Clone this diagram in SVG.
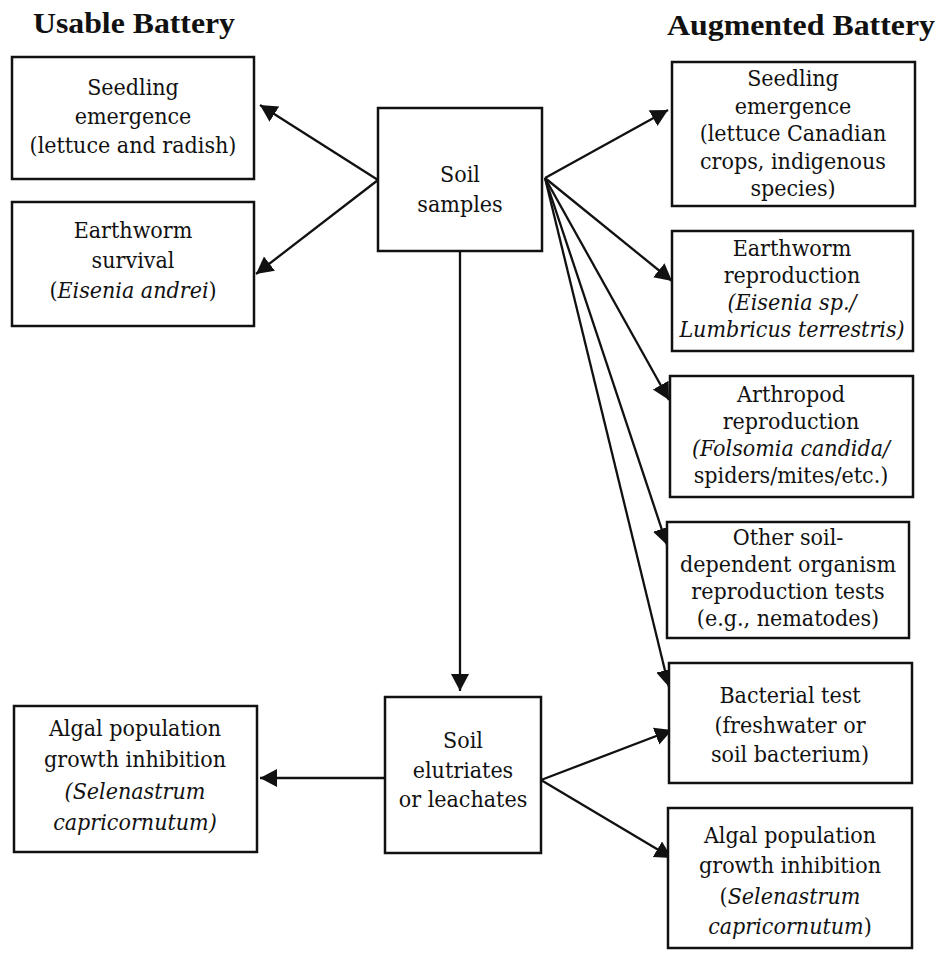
<svg xmlns="http://www.w3.org/2000/svg" width="939" height="954" viewBox="0 0 939 954">
  <style>
    .box { fill: #fff; stroke: #111; stroke-width: 2.5; }
    text { fill: #111; }
    .t { font-family: "DejaVu Serif Condensed", "DejaVu Serif", serif; font-stretch: condensed; font-size: 23px; text-anchor: middle; }
    .i { font-style: italic; }
    .title { font-family: "Liberation Serif", "DejaVu Serif", serif; font-size: 29px; font-weight: bold; }
    .edge { fill: none; stroke: #111; stroke-width: 2.3; marker-end: url(#head); }
  </style>
  <defs>
    <marker id="head" markerUnits="userSpaceOnUse" markerWidth="20" markerHeight="20" refX="17" refY="9" orient="auto">
      <path d="M0,0 L17,9 L0,18 Z" fill="#111"/>
    </marker>
  </defs>
  <rect width="939" height="954" fill="#fff"/>

  <!-- column headings -->
  <text class="title" x="33" y="33" textLength="202" lengthAdjust="spacingAndGlyphs">Usable Battery</text>
  <text class="title" x="667" y="35" textLength="268" lengthAdjust="spacingAndGlyphs">Augmented Battery</text>

  <!-- connectors -->
  <g id="connectors">
    <line class="edge" x1="378" y1="180" x2="260" y2="105"/>
    <line class="edge" x1="378" y1="180" x2="256" y2="274"/>
    <line class="edge" x1="545" y1="178" x2="668" y2="110"/>
    <line class="edge" x1="545" y1="178" x2="672" y2="281"/>
    <line class="edge" x1="545" y1="178" x2="669" y2="400"/>
    <line class="edge" x1="545" y1="178" x2="667" y2="545"/>
    <line class="edge" x1="545" y1="178" x2="669" y2="687"/>
    <line class="edge" x1="460" y1="251" x2="460" y2="691"/>
    <line class="edge" x1="385" y1="778" x2="260" y2="778"/>
    <line class="edge" x1="541" y1="780" x2="672" y2="730"/>
    <line class="edge" x1="541" y1="780" x2="672" y2="858"/>
  </g>

  <!-- usable battery -->
  <g id="usable-seedling">
    <rect class="box" x="12" y="57" width="242" height="122"/>
    <text class="t" x="133" y="95">Seedling</text>
    <text class="t" x="133" y="124">emergence</text>
    <text class="t" x="133" y="153">(lettuce and radish)</text>
  </g>
  <g id="usable-earthworm">
    <rect class="box" x="12" y="202" width="242" height="124"/>
    <text class="t" x="133" y="238">Earthworm</text>
    <text class="t" x="133" y="268">survival</text>
    <text class="t" x="133" y="298">(<tspan class="i">Eisenia andrei</tspan>)</text>
  </g>
  <g id="usable-algal">
    <rect class="box" x="14" y="706" width="243" height="146"/>
    <text class="t" x="135" y="736">Algal population</text>
    <text class="t" x="135" y="767">growth inhibition</text>
    <text class="t i" x="135" y="799">(Selenastrum</text>
    <text class="t i" x="135" y="830">capricornutum)</text>
  </g>

  <!-- sources -->
  <g id="soil-samples">
    <rect class="box" x="378" y="108" width="164" height="143"/>
    <text class="t" x="460" y="182">Soil</text>
    <text class="t" x="460" y="212">samples</text>
  </g>
  <g id="soil-elutriates">
    <rect class="box" x="385" y="697" width="156" height="156"/>
    <text class="t" x="463" y="748">Soil</text>
    <text class="t" x="463" y="778">elutriates</text>
    <text class="t" x="463" y="807">or leachates</text>
  </g>

  <!-- augmented battery -->
  <g id="aug-seedling">
    <rect class="box" x="672" y="62" width="243" height="144"/>
    <text class="t" x="793" y="86">Seedling</text>
    <text class="t" x="793" y="113.5">emergence</text>
    <text class="t" x="793" y="141">(lettuce Canadian</text>
    <text class="t" x="793" y="168.5">crops, indigenous</text>
    <text class="t" x="793" y="196">species)</text>
  </g>
  <g id="aug-earthworm">
    <rect class="box" x="672" y="231" width="241" height="120"/>
    <text class="t" x="792" y="256">Earthworm</text>
    <text class="t" x="792" y="283">reproduction</text>
    <text class="t i" x="792" y="310">(Eisenia sp./</text>
    <text class="t i" x="792" y="337">Lumbricus terrestris)</text>
  </g>
  <g id="aug-arthropod">
    <rect class="box" x="670" y="376" width="243" height="121"/>
    <text class="t" x="791" y="402">Arthropod</text>
    <text class="t" x="791" y="429">reproduction</text>
    <text class="t i" x="791" y="456">(Folsomia candida/</text>
    <text class="t" x="791" y="483">spiders/mites/etc.)</text>
  </g>
  <g id="aug-other">
    <rect class="box" x="667" y="522" width="242" height="116"/>
    <text class="t" x="788" y="545">Other soil-</text>
    <text class="t" x="788" y="572">dependent organism</text>
    <text class="t" x="788" y="599">reproduction tests</text>
    <text class="t" x="788" y="626">(e.g., nematodes)</text>
  </g>
  <g id="aug-bacterial">
    <rect class="box" x="669" y="663" width="243" height="120"/>
    <text class="t" x="790" y="703">Bacterial test</text>
    <text class="t" x="790" y="733">(freshwater or</text>
    <text class="t" x="790" y="762">soil bacterium)</text>
  </g>
  <g id="aug-algal">
    <rect class="box" x="668" y="808" width="244" height="140"/>
    <text class="t" x="790" y="843">Algal population</text>
    <text class="t" x="790" y="873">growth inhibition</text>
    <text class="t" x="790" y="904">(<tspan class="i">Selenastrum</tspan></text>
    <text class="t" x="790" y="934"><tspan class="i">capricornutum</tspan>)</text>
  </g>
</svg>
